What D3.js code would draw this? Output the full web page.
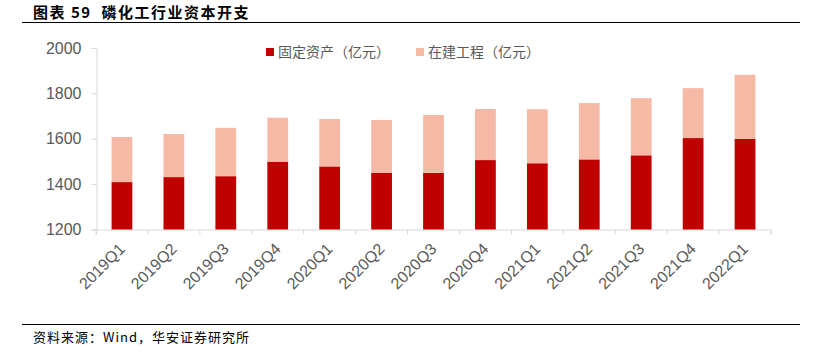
<!DOCTYPE html>
<html><head><meta charset="utf-8">
<script src="https://cdn.jsdelivr.net/npm/d3@7/dist/d3.min.js"></script>
<style>body{margin:0;background:#fff;}svg{display:block;}</style>
</head><body>
<svg id="c" width="821" height="355"></svg>
<script>
const categories = ["2019Q1","2019Q2","2019Q3","2019Q4","2020Q1","2020Q2","2020Q3","2020Q4","2021Q1","2021Q2","2021Q3","2021Q4","2022Q1"];
const fixedAssets = [1409,1431,1435,1499,1478,1449,1450,1506,1492,1509,1527,1603,1599];
const construction = [199,190,213,194,209,234,255,225,238,248,252,220,283];
const yTicks = [1200,1400,1600,1800,2000];
const seriesNames = ["固定资产（亿元）","在建工程（亿元）"];
const colors = ["#C00000","#F5B9A5"];

const svg = d3.select("#c");
const font = "'Liberation Sans', Arial, sans-serif";
const cjk = "'Noto Sans CJK SC', sans-serif";

// title
svg.append("text").attr("x",33).attr("y",18).attr("font-family",cjk).attr("font-weight","bold")
  .attr("font-size",15).attr("letter-spacing",1.5).attr("fill","#000")
  .attr("xml:space","preserve").text("图表 59  磷化工行业资本开支");
svg.append("line").attr("x1",22).attr("x2",800).attr("y1",22.5).attr("y2",22.5).attr("stroke","#000").attr("stroke-width",1);
svg.append("line").attr("x1",22).attr("x2",800).attr("y1",324.5).attr("y2",324.5).attr("stroke","#000").attr("stroke-width",1);
svg.append("text").attr("x",33).attr("y",342).attr("font-family",cjk).attr("font-size",13).attr("letter-spacing",1).attr("fill","#000").text("资料来源：Wind，华安证券研究所");

const x = d3.scaleBand().domain(categories).range([96,771]).paddingInner(0.6).paddingOuter(0.3);
const xb = d3.scaleBand().domain(categories).range([96,771]);
const y = d3.scaleLinear().domain([1200,2000]).range([229.5,48]);

// axes
const yAxis = svg.append("g").attr("transform","translate(96.5,0)")
  .call(d3.axisLeft(y).tickValues(yTicks).tickFormat(d3.format("d")).tickSize(5).tickPadding(10));
yAxis.select(".domain").attr("stroke","#D9D9D9");
yAxis.selectAll(".tick line").attr("stroke","#D9D9D9");
yAxis.selectAll("text").attr("font-family",font).attr("font-size",16).attr("fill","#595959");

const xAxis = svg.append("g").attr("transform","translate(0,229.5)")
  .call(d3.axisBottom(xb).tickSize(5).tickFormat(()=>""));
xAxis.select(".domain").attr("stroke","#D9D9D9");
xAxis.selectAll(".tick line").attr("transform",`translate(${-xb.bandwidth()/2},0)`).attr("stroke","#D9D9D9");
xAxis.append("line").attr("x1",771).attr("x2",771).attr("y1",0).attr("y2",5).attr("stroke","#D9D9D9");

svg.append("g").selectAll("text").data(categories).join("text")
  .attr("transform",d=>`translate(${xb(d)+xb.bandwidth()/2+4},${250}) rotate(-45)`)
  .attr("text-anchor","end").attr("font-family",font).attr("font-size",16).attr("fill","#595959")
  .text(d=>d);

// bars
const g = svg.append("g");
g.selectAll(".fa").data(categories).join("rect")
  .attr("x",d=>x(d)).attr("width",x.bandwidth())
  .attr("y",(d,i)=>y(fixedAssets[i])).attr("height",(d,i)=>y(1200)-y(fixedAssets[i]))
  .attr("fill",colors[0]);
g.selectAll(".ci").data(categories).join("rect")
  .attr("x",d=>x(d)).attr("width",x.bandwidth())
  .attr("y",(d,i)=>y(fixedAssets[i]+construction[i])).attr("height",(d,i)=>y(fixedAssets[i])-y(fixedAssets[i]+construction[i]))
  .attr("fill",colors[1]);

// legend
const lx = [266,416];
seriesNames.forEach((n,i)=>{
  svg.append("rect").attr("x",lx[i]).attr("y",48).attr("width",8).attr("height",8).attr("fill",colors[i]);
  svg.append("text").attr("x",lx[i]+12).attr("y",57).attr("font-family",cjk).attr("font-size",14).attr("fill","#595959").text(n);
});
</script>
</body></html>
